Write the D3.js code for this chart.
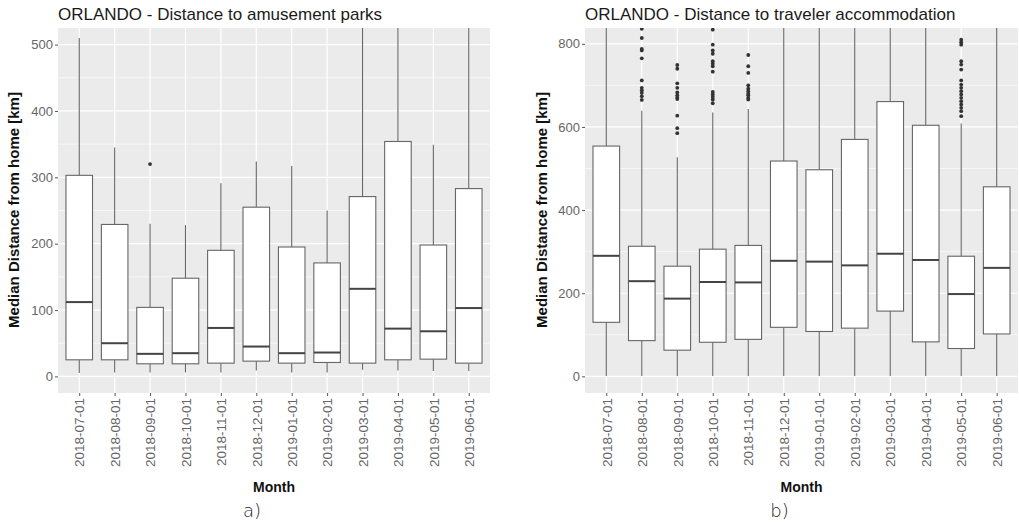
<!DOCTYPE html>
<html lang="en">
<head>
<meta charset="utf-8">
<script src="https://d3js.org/d3.v7.min.js"></script>
<style>
  body { margin: 0; background: #fff; }
  text { font-family: "Liberation Sans", Arial, sans-serif; }
</style>
</head>
<body>
<script>
// months on the x axis (both panels)
const months = ["2018-07-01", "2018-08-01", "2018-09-01", "2018-10-01", "2018-11-01", "2018-12-01",
                "2019-01-01", "2019-02-01", "2019-03-01", "2019-04-01", "2019-05-01", "2019-06-01"];

// a) distance to amusement parks
const parksLow = [5, 6, 6, 6, 6, 9, 6, 6, 10, 9, 8, 8];
const parksQ1 = [25, 25, 19, 19, 20, 23, 20, 21, 20, 25, 26, 20];
const parksMed = [112, 50, 34, 35, 73, 45, 35, 36, 132, 72, 68, 103];
const parksQ3 = [303, 229, 104, 148, 190, 255, 195, 171, 271, 354, 198, 283];
const parksHigh = [510, 345, 230, 228, 291, 324, 317, 250, 600, 600, 349, 600];
const parksOut = [[], [], [320], [], [], [], [], [], [], [], [], []];
const parksTicks = [0, 100, 200, 300, 400, 500];

// b) distance to traveler accommodation
const accLow = [1, 1, 1, 1, 1, 1, 1, 1, 1, 1, 1, 1];
const accQ1 = [130, 86, 63, 82, 89, 118, 108, 116, 157, 83, 67, 102];
const accMed = [290, 229, 187, 227, 226, 278, 276, 267, 295, 280, 198, 261];
const accQ3 = [554, 313, 265, 306, 315, 518, 497, 570, 661, 604, 289, 456];
const accHigh = [900, 639, 527, 635, 643, 900, 900, 900, 900, 900, 608, 900];
const accOut = [
  [],
  [836, 814, 788, 784, 765, 712, 694, 688, 682, 674, 665],
  [749, 740, 705, 694, 683, 676, 671, 667, 627, 597, 585],
  [834, 798, 784, 776, 758, 752, 746, 733, 684, 678, 672, 666, 657],
  [773, 746, 730, 700, 692, 686, 680, 676, 670, 666],
  [], [], [], [], [],
  [810, 804, 798, 758, 750, 738, 712, 702, 694, 686, 678, 670, 662, 654, 646, 638, 626],
  []
];
const accTicks = [0, 200, 400, 600, 800];

const W = 1019, H = 524;
const svg = d3.select("body").append("svg").attr("width", W).attr("height", H);
svg.append("rect").attr("width", W).attr("height", H).attr("fill", "#fff");

function panel(id, p) {
  const x = d3.scalePoint().domain(months).range([p.x0, p.x1]).padding(0.6);
  const y = d3.scaleLinear().domain(p.yDomain).range([393, 28]);
  const step = x.step(), bw = step * 0.75;
  const g = svg.append("g");

  g.append("clipPath").attr("id", id).append("rect")
    .attr("x", p.x0).attr("y", 28).attr("width", p.x1 - p.x0).attr("height", 365);

  // panel background + grid
  g.append("rect").attr("x", p.x0).attr("y", 28).attr("width", p.x1 - p.x0).attr("height", 365)
    .attr("fill", "#ebebeb");
  g.selectAll(".minor").data(p.minor).enter().append("line")
    .attr("x1", p.x0).attr("x2", p.x1).attr("y1", d => y(d)).attr("y2", d => y(d))
    .attr("stroke", "#fff").attr("stroke-width", 0.6);
  g.selectAll(".major").data(p.ticks).enter().append("line")
    .attr("x1", p.x0).attr("x2", p.x1).attr("y1", d => y(d)).attr("y2", d => y(d))
    .attr("stroke", "#fff").attr("stroke-width", 1.2);
  g.selectAll(".vgrid").data(months).enter().append("line")
    .attr("x1", d => x(d)).attr("x2", d => x(d)).attr("y1", 28).attr("y2", 393)
    .attr("stroke", "#fff").attr("stroke-width", 1.2);

  const plot = g.append("g").attr("clip-path", "url(#" + id + ")");
  const boxes = plot.selectAll(".box").data(months).enter().append("g");
  // whiskers
  boxes.append("line")
    .attr("x1", d => x(d)).attr("x2", d => x(d))
    .attr("y1", (d, i) => y(p.high[i])).attr("y2", (d, i) => y(p.q3[i]))
    .attr("stroke", "#666").attr("stroke-width", 1.1);
  boxes.append("line")
    .attr("x1", d => x(d)).attr("x2", d => x(d))
    .attr("y1", (d, i) => y(p.q1[i])).attr("y2", (d, i) => y(p.low[i]))
    .attr("stroke", "#666").attr("stroke-width", 1.1);
  boxes.append("rect")
    .attr("x", d => x(d) - bw / 2).attr("width", bw)
    .attr("y", (d, i) => y(p.q3[i])).attr("height", (d, i) => y(p.q1[i]) - y(p.q3[i]))
    .attr("fill", "#fff").attr("stroke", "#666").attr("stroke-width", 1.1);
  boxes.append("line")
    .attr("x1", d => x(d) - bw / 2).attr("x2", d => x(d) + bw / 2)
    .attr("y1", (d, i) => y(p.med[i])).attr("y2", (d, i) => y(p.med[i]))
    .attr("stroke", "#444").attr("stroke-width", 2);
  boxes.selectAll("circle").data((d, i) => p.out[i].map(v => [d, v])).enter().append("circle")
    .attr("cx", d => x(d[0])).attr("cy", d => y(d[1])).attr("r", 1.9)
    .attr("fill", "#333");

  // axes
  const ya = g.append("g").attr("transform", "translate(" + p.x0 + ",0)")
    .call(d3.axisLeft(y).tickValues(p.ticks).tickSize(3).tickPadding(2));
  ya.select(".domain").remove();
  ya.selectAll("line").attr("stroke", "#555");
  ya.selectAll("text").attr("fill", "#666").style("font-size", "13px");

  const xa = g.append("g").attr("transform", "translate(0,393)")
    .call(d3.axisBottom(x).tickSize(3).tickPadding(2));
  xa.select(".domain").remove();
  xa.selectAll("line").attr("stroke", "#555");
  xa.selectAll("text").attr("fill", "#666").style("font-size", "13.5px")
    .attr("transform", "rotate(-90)").attr("text-anchor", "end")
    .attr("x", -5).attr("y", 0).attr("dy", "0.35em");

  // titles and labels
  g.append("text").attr("x", p.x0).attr("y", 20).text(p.title)
    .style("font-size", "17px").attr("fill", "#1a1a1a");
  g.append("text").attr("transform", "translate(" + p.labX + ",210) rotate(-90)")
    .attr("text-anchor", "middle").attr("dy", "0.35em").text("Median Distance from home [km]")
    .style("font-size", "15px").style("font-weight", "bold").attr("fill", "#111");
  g.append("text").attr("x", (p.x0 + p.x1) / 2).attr("y", 492).attr("text-anchor", "middle")
    .text("Month").style("font-size", "14px").style("font-weight", "bold").attr("fill", "#111");
  g.append("text").attr("x", (p.x0 + p.x1) / 2 - 22).attr("y", 517).attr("text-anchor", "middle")
    .text(p.tag).style("font-size", "18px").style("font-weight", "300").attr("fill", "#222")
    .style("font-family", "'DejaVu Sans', sans-serif");
}

panel("clipA", {
  x0: 58, x1: 490, yDomain: [-25, 525], ticks: parksTicks, minor: [50, 150, 250, 350, 450],
  low: parksLow, q1: parksQ1, med: parksMed, q3: parksQ3, high: parksHigh, out: parksOut,
  title: "ORLANDO - Distance to amusement parks", labX: 14, tag: "a)"
});
panel("clipB", {
  x0: 585, x1: 1018, yDomain: [-40, 838], ticks: accTicks, minor: [100, 300, 500, 700],
  low: accLow, q1: accQ1, med: accMed, q3: accQ3, high: accHigh, out: accOut,
  title: "ORLANDO - Distance to traveler accommodation", labX: 542, tag: "b)"
});
</script>
</body>
</html>
